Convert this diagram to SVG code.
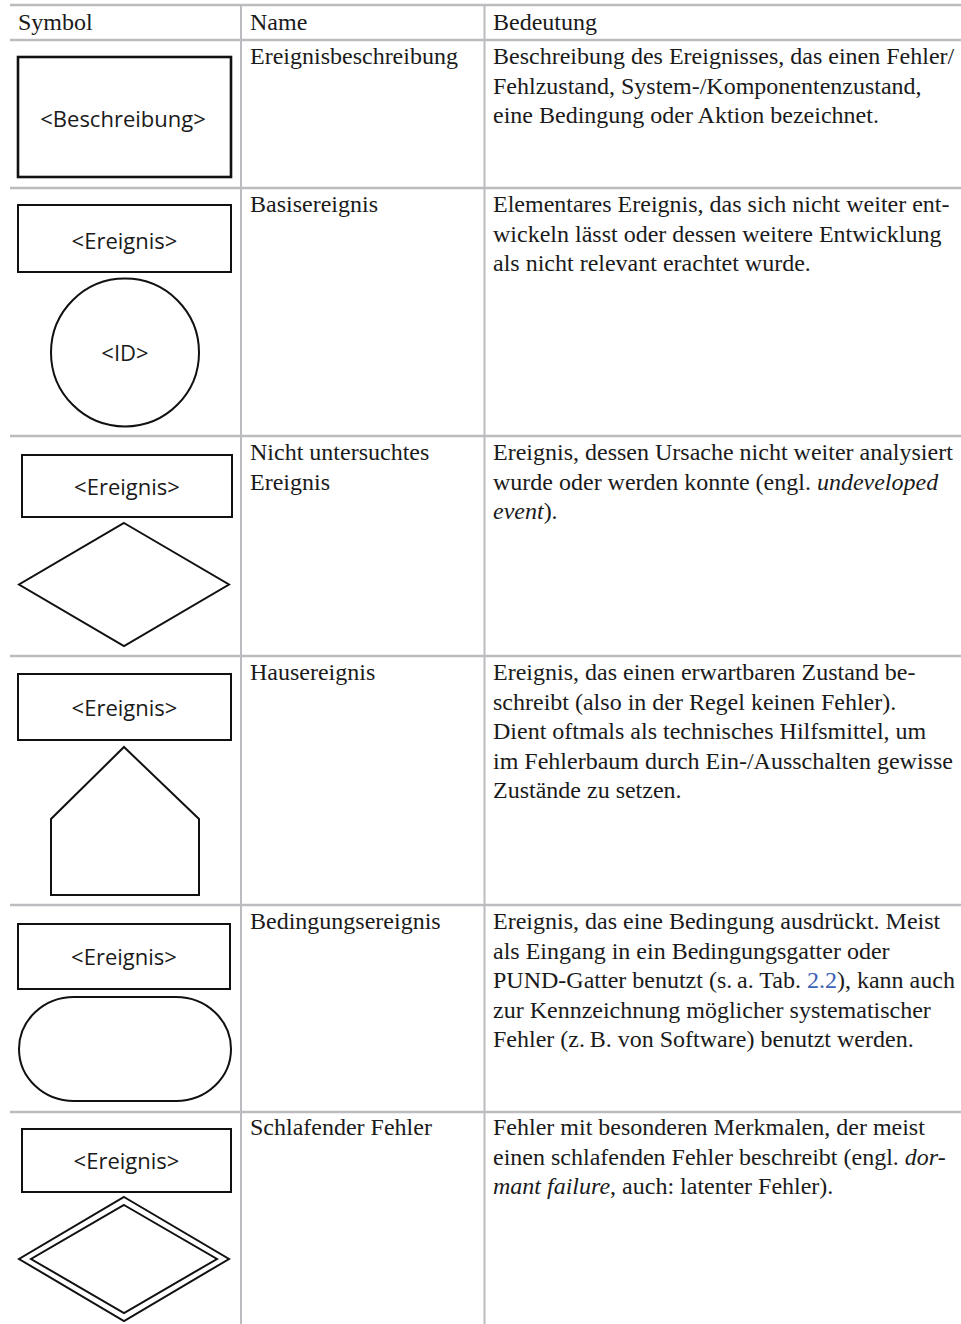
<svg xmlns="http://www.w3.org/2000/svg" width="961" height="1324" viewBox="0 0 961 1324">
  <style>
    .rule { stroke: #bcbcc0; stroke-width: 2.5; fill: none; }
    .vrule { stroke: #bcbcc0; stroke-width: 2; fill: none; }
    .shape { stroke: #111; stroke-width: 2; fill: #fff; }
    .shape-bold { stroke: #111; stroke-width: 2.6; fill: #fff; }
    .txt { font-family: "Liberation Serif", "Times New Roman", serif; font-size: 24px; fill: #1a1a1a; }
    .sym { font-family: "Open Sans", "Noto Sans", sans-serif; font-size: 22px; fill: #1a1a1a; text-anchor: middle; }
    .it { font-style: italic; }
    .link { fill: #3b62b5; }
  </style>

  <rect width="961" height="1324" fill="#fff"/>

  <!-- table grid -->
  <g id="grid">
    <line class="rule" x1="10" y1="5" x2="961" y2="5"/>
    <line class="rule" x1="10" y1="40" x2="961" y2="40"/>
    <line class="rule" x1="10" y1="188" x2="961" y2="188"/>
    <line class="rule" x1="10" y1="436" x2="961" y2="436"/>
    <line class="rule" x1="10" y1="656" x2="961" y2="656"/>
    <line class="rule" x1="10" y1="905" x2="961" y2="905"/>
    <line class="rule" x1="10" y1="1112" x2="961" y2="1112"/>
    <line class="vrule" x1="241" y1="5" x2="241" y2="1324"/>
    <line class="vrule" x1="484.5" y1="5" x2="484.5" y2="1324"/>
  </g>

  <!-- column headings -->
  <g id="header" class="txt">
    <text x="18" y="30">Symbol</text>
    <text x="250" y="30">Name</text>
    <text x="493" y="30">Bedeutung</text>
  </g>

  <!-- event description -->
  <g id="row-ereignisbeschreibung">
    <rect class="shape-bold" x="18" y="57" width="213" height="120"/>
    <text class="sym" x="123" y="127">&lt;Beschreibung&gt;</text>
    <text class="txt" x="250" y="64">Ereignisbeschreibung</text>
    <text class="txt" x="493" y="64">Beschreibung des Ereignisses, das einen Fehler/</text>
    <text class="txt" x="493" y="93.5">Fehlzustand, System-/Komponentenzustand,</text>
    <text class="txt" x="493" y="123">eine Bedingung oder Aktion bezeichnet.</text>
  </g>

  <!-- basic event -->
  <g id="row-basisereignis">
    <rect class="shape" x="18" y="205" width="213" height="67"/>
    <text class="sym" x="124.5" y="249">&lt;Ereignis&gt;</text>
    <circle class="shape" cx="125" cy="352.5" r="74"/>
    <text class="sym" x="125" y="361">&lt;ID&gt;</text>
    <text class="txt" x="250" y="212">Basisereignis</text>
    <text class="txt" x="493" y="212">Elementares Ereignis, das sich nicht weiter ent-</text>
    <text class="txt" x="493" y="241.5">wickeln lässt oder dessen weitere Entwicklung</text>
    <text class="txt" x="493" y="271">als nicht relevant erachtet wurde.</text>
  </g>

  <!-- undeveloped event -->
  <g id="row-nicht-untersucht">
    <rect class="shape" x="22" y="455" width="210" height="62"/>
    <text class="sym" x="127" y="495">&lt;Ereignis&gt;</text>
    <polygon class="shape" points="124,523 229,584.5 124,646 19,584.5"/>
    <text class="txt" x="250" y="460">Nicht untersuchtes</text>
    <text class="txt" x="250" y="489.5">Ereignis</text>
    <text class="txt" x="493" y="460">Ereignis, dessen Ursache nicht weiter analysiert</text>
    <text class="txt" x="493" y="489.5">wurde oder werden konnte (engl. <tspan class="it">undeveloped</tspan></text>
    <text class="txt" x="493" y="519"><tspan class="it">event</tspan>).</text>
  </g>

  <!-- house event -->
  <g id="row-hausereignis">
    <rect class="shape" x="18" y="674" width="213" height="66"/>
    <text class="sym" x="124.5" y="716">&lt;Ereignis&gt;</text>
    <polygon class="shape" points="124,747 199,819 199,895 51,895 51,819"/>
    <text class="txt" x="250" y="680">Hausereignis</text>
    <text class="txt" x="493" y="680">Ereignis, das einen erwartbaren Zustand be-</text>
    <text class="txt" x="493" y="709.5">schreibt (also in der Regel keinen Fehler).</text>
    <text class="txt" x="493" y="739">Dient oftmals als technisches Hilfsmittel, um</text>
    <text class="txt" x="493" y="768.5">im Fehlerbaum durch Ein-/Ausschalten gewisse</text>
    <text class="txt" x="493" y="798">Zustände zu setzen.</text>
  </g>

  <!-- conditioning event -->
  <g id="row-bedingungsereignis">
    <rect class="shape" x="18" y="924" width="212" height="65"/>
    <text class="sym" x="124" y="965">&lt;Ereignis&gt;</text>
    <rect class="shape" x="19" y="997" width="212" height="104" rx="55" ry="52"/>
    <text class="txt" x="250" y="929">Bedingungsereignis</text>
    <text class="txt" x="493" y="929">Ereignis, das eine Bedingung ausdrückt. Meist</text>
    <text class="txt" x="493" y="958.5">als Eingang in ein Bedingungsgatter oder</text>
    <text class="txt" x="493" y="988">PUND-Gatter benutzt (s.&#8201;a. Tab. <tspan class="link">2.2</tspan>), kann auch</text>
    <text class="txt" x="493" y="1017.5">zur Kennzeichnung möglicher systematischer</text>
    <text class="txt" x="493" y="1047">Fehler (z.&#8201;B. von Software) benutzt werden.</text>
  </g>

  <!-- dormant failure -->
  <g id="row-schlafender-fehler">
    <rect class="shape" x="22" y="1129" width="209" height="63"/>
    <text class="sym" x="126.5" y="1169">&lt;Ereignis&gt;</text>
    <polygon class="shape" points="124,1197 229,1259 124,1321 19,1259"/>
    <polygon class="shape" points="124,1205 217,1259 124,1313 31,1259"/>
    <text class="txt" x="250" y="1135">Schlafender Fehler</text>
    <text class="txt" x="493" y="1135">Fehler mit besonderen Merkmalen, der meist</text>
    <text class="txt" x="493" y="1164.5">einen schlafenden Fehler beschreibt (engl. <tspan class="it">dor-</tspan></text>
    <text class="txt" x="493" y="1194"><tspan class="it">mant failure</tspan>, auch: latenter Fehler).</text>
  </g>
</svg>
